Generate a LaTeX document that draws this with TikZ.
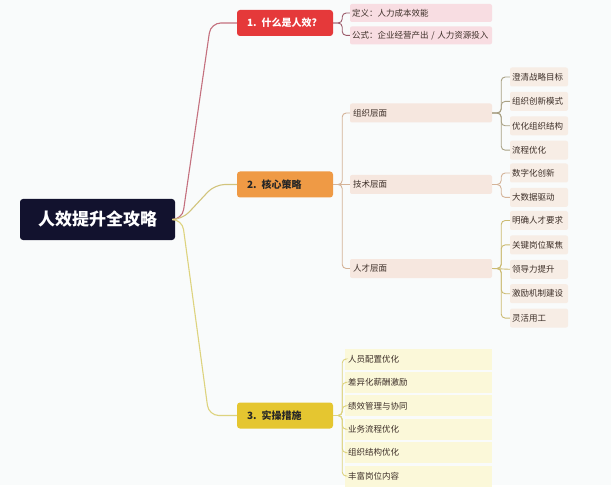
\documentclass[tikz,border=0pt]{standalone}
\usepackage{fontspec}
\setmainfont{Noto Sans CJK SC}
\definecolor{pagebg}{HTML}{F9FBFB}
\definecolor{navy}{HTML}{12122E}
\definecolor{topicred}{HTML}{E5393A}
\definecolor{topicorange}{HTML}{EF9A45}
\definecolor{topicyellow}{HTML}{E5C630}
\definecolor{linkred}{HTML}{C4707E}
\definecolor{linkolive}{HTML}{D2C47C}
\definecolor{linkyellow}{HTML}{DDD37E}
\definecolor{brmauve}{HTML}{9B5A6A}
\definecolor{brtan}{HTML}{D4B398}
\definecolor{brgrey}{HTML}{A9A184}
\definecolor{brgold}{HTML}{CBBB72}
\definecolor{pinkleaf}{HTML}{F8DDE2}
\definecolor{peachleaf}{HTML}{F6E7DF}
\definecolor{creamleaf}{HTML}{F7EDE5}
\definecolor{yellowleaf}{HTML}{FBF8D9}
\definecolor{leaftext}{HTML}{3D2F28}
\usetikzlibrary{positioning}

\begin{document}
\begin{tikzpicture}[x=1pt,y=-1pt,node distance=5pt,
  rootbox/.style={rectangle,rounded corners=3pt,fill=navy,text=white,minimum width=155pt,minimum height=41pt,font=\bfseries\fontsize{17}{20}\selectfont},
  topic/.style={rectangle,rounded corners=3pt,minimum width=96pt,minimum height=26pt,inner xsep=10pt,text width=76pt,align=left,font=\bfseries\fontsize{10}{12}\selectfont},
  defleaf/.style={rectangle,rounded corners=2pt,fill=pinkleaf,text=leaftext,minimum width=142pt,minimum height=18pt,inner xsep=2pt,text width=138pt,align=left,font=\fontsize{8.5}{10}\selectfont},
  layer/.style={rectangle,rounded corners=2pt,fill=peachleaf,text=leaftext,minimum width=142pt,minimum height=19pt,inner xsep=3pt,text width=136pt,align=left,font=\fontsize{8.5}{10}\selectfont},
  gleaf/.style={rectangle,rounded corners=2pt,fill=creamleaf,text=leaftext,minimum width=58pt,minimum height=19pt,inner xsep=2pt,text width=54pt,align=left,font=\fontsize{8.5}{10}\selectfont},
  doleaf/.style={rectangle,fill=yellowleaf,text=leaftext,minimum width=147pt,minimum height=21pt,inner xsep=3pt,text width=141pt,align=left,font=\fontsize{8.5}{10}\selectfont},
  trunk/.style={line width=1.1pt,rounded corners=10pt},
  twig/.style={line width=0.9pt,rounded corners=4pt}]

  \fill[pagebg] (0,0) rectangle (611,485);

  \node[rootbox] (root) at (97.5,219.5) {人效提升全攻略};

  \node[topic,fill=topicred,text=white] (what) at (285,23) {1. 什么是人效?};
  \node[topic,fill=topicorange,text=black!85] (strat) at (285,184.5) {2. 核心策略};
  \node[topic,fill=topicyellow,text=black!85] (act) at (285,415.5) {3. 实操措施};

  \node[defleaf] (def) at (421,13) {定义：人力成本效能};
  \node[defleaf,below=4pt of def] (formula) {公式：企业经营产出 / 人力资源投入};

  \node[layer] (org) at (421,113) {组织层面};
  \node[layer] (tech) at (421,184.5) {技术层面};
  \node[layer] (talent) at (421,268.5) {人才层面};

  \node[gleaf] (goal) at (539,77) {澄清战略目标};
  \node[gleaf,below=of goal] (mode) {组织创新模式};
  \node[gleaf,below=of mode] (struct) {优化组织结构};
  \node[gleaf,below=of struct] (flow) {流程优化};

  \node[gleaf] (digital) at (539,173) {数字化创新};
  \node[gleaf,below=of digital] (bigdata) {大数据驱动};

  \node[gleaf] (req) at (539,220.5) {明确人才要求};
  \node[gleaf,below=of req] (keypost) {关键岗位聚焦};
  \node[gleaf,below=of keypost] (lead) {领导力提升};
  \node[gleaf,below=of lead] (incent) {激励机制建设};
  \node[gleaf,below=of incent] (flex) {灵活用工};

  \node[doleaf] (staff) at (418.5,359) {人员配置优化};
  \node[doleaf,below=2pt of staff] (pay) {差异化薪酬激励};
  \node[doleaf,below=2pt of pay] (perf) {绩效管理与协同};
  \node[doleaf,below=2pt of perf] (biz) {业务流程优化};
  \node[doleaf,below=2pt of biz] (orgopt) {组织结构优化};
  \node[doleaf,below=2pt of orgopt] (enrich) {丰富岗位内容};

  \draw[trunk,draw=linkred] (root.east) -- ++(7,0) -- ([xshift=-26pt]what.west) -- (what.west);
  \draw[trunk,draw=linkolive] (root.east) -- ++(7,0) -- ([xshift=-22pt]strat.west) -- (strat.west);
  \draw[trunk,draw=linkyellow] (root.east) -- ++(7,0) -- ([xshift=-28pt]act.west) -- (act.west);

  \draw[twig,draw=brmauve] (what.east) -- ++(9,0) |- (def.west);
  \draw[twig,draw=brmauve] (what.east) -- ++(9,0) |- (formula.west);

  \draw[twig,draw=brtan] (strat.east) -- ++(9,0) |- (org.west);
  \draw[twig,draw=brtan] (strat.east) -- (tech.west);
  \draw[twig,draw=brtan] (strat.east) -- ++(9,0) |- (talent.west);

  \draw[twig,draw=brgrey] (org.east) -- ++(9,0) |- (goal.west);
  \draw[twig,draw=brgrey] (org.east) -- ++(9,0) |- (mode.west);
  \draw[twig,draw=brgrey] (org.east) -- ++(9,0) |- (struct.west);
  \draw[twig,draw=brgrey] (org.east) -- ++(9,0) |- (flow.west);

  \draw[twig,draw=brtan] (tech.east) -- ++(9,0) |- (digital.west);
  \draw[twig,draw=brtan] (tech.east) -- ++(9,0) |- (bigdata.west);

  \draw[twig,draw=brgold] (talent.east) -- ++(9,0) |- (req.west);
  \draw[twig,draw=brgold] (talent.east) -- ++(9,0) |- (keypost.west);
  \draw[twig,draw=brgold] (talent.east) -- (lead.west);
  \draw[twig,draw=brgold] (talent.east) -- ++(9,0) |- (incent.west);
  \draw[twig,draw=brgold] (talent.east) -- ++(9,0) |- (flex.west);

  \draw[twig,draw=linkyellow] (act.east) -- ++(9,0) |- (staff.west);
  \draw[twig,draw=linkyellow] (act.east) -- ++(9,0) |- (pay.west);
  \draw[twig,draw=linkyellow] (act.east) -- ++(9,0) |- (perf.west);
  \draw[twig,draw=linkyellow] (act.east) -- ++(9,0) |- (biz.west);
  \draw[twig,draw=linkyellow] (act.east) -- ++(9,0) |- (orgopt.west);
  \draw[twig,draw=linkyellow] (act.east) -- ++(9,0) |- (enrich.west);
\end{tikzpicture}
\end{document}
